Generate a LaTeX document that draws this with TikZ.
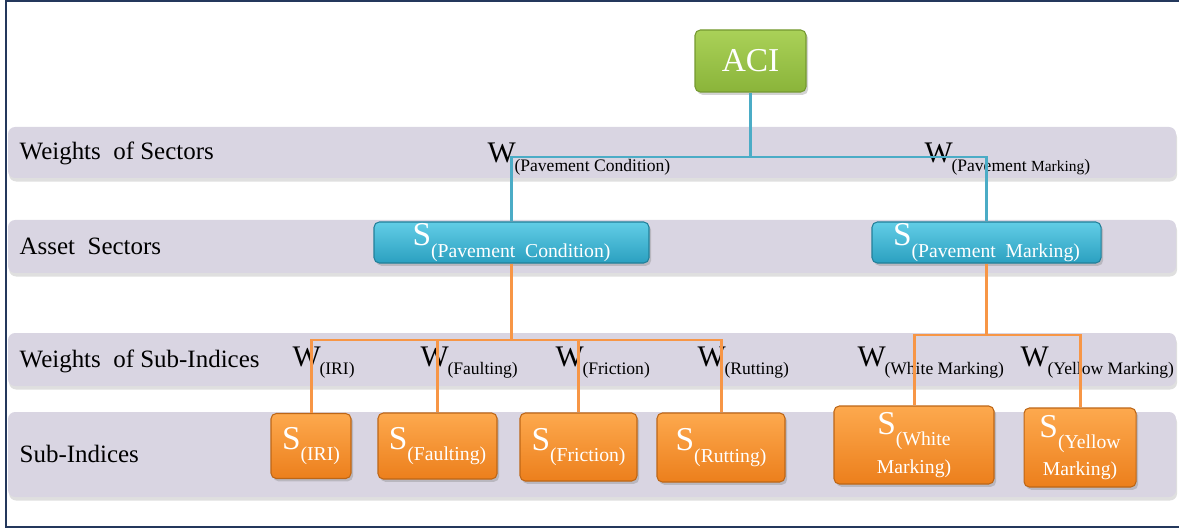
\documentclass[tikz,border=0pt]{standalone}
\usepackage{fontspec}
\setmainfont{Liberation Serif}
\newfontfamily\diagfont{Liberation Serif}
\usetikzlibrary{shadows}
\definecolor{bandgray}{HTML}{D9D5E2}
\definecolor{framenavy}{HTML}{24385C}
\definecolor{linkblue}{HTML}{4BACC6}
\definecolor{linkorange}{HTML}{F79646}
\definecolor{greentop}{HTML}{AAD158}
\definecolor{greenbot}{HTML}{8AB43A}
\definecolor{bluetop}{HTML}{62CDE6}
\definecolor{bluebot}{HTML}{2BA0C0}
\definecolor{orangetop}{HTML}{FDA94E}
\definecolor{orangebot}{HTML}{EC7F1C}
% W and S with a dropped subscript
\newcommand{\wlabel}[1]{{\diagfont\fontsize{8.5}{9}\selectfont W}\kern-0.4pt\raisebox{-0.55ex}{\diagfont\fontsize{5}{6}\selectfont #1}}
\newcommand{\slabel}[1]{{\diagfont\fontsize{9.5}{10}\selectfont S}\raisebox{-0.7ex}{\diagfont\fontsize{5.6}{6}\selectfont #1}}
\begin{document}
\begin{tikzpicture}[x=1cm,y=-1cm,
  band/.style={fill=bandgray, rounded corners=2pt,
    drop shadow={shadow xshift=0.3pt, shadow yshift=-1pt, opacity=0.25}},
  rowlab/.style={anchor=base west, inner sep=0, font=\diagfont\fontsize{7.1}{8}\selectfont},
  wlab/.style={anchor=base west, inner sep=0},
  box/.style={rounded corners=1.5pt, line width=0.3pt, text=white, inner sep=0,
    align=center, drop shadow={shadow xshift=0.6pt, shadow yshift=-0.8pt, opacity=0.35}},
  acibox/.style={box, draw=greenbot!85!black, top color=greentop, bottom color=greenbot},
  secbox/.style={box, draw=bluebot!80!black, top color=bluetop, bottom color=bluebot,
    minimum height=0.41cm},
  subbox/.style={box, draw=orangebot!80!black, top color=orangetop, bottom color=orangebot},
  blueline/.style={draw=linkblue, line width=0.75pt},
  orangeline/.style={draw=linkorange, line width=0.85pt}]
\useasboundingbox (0,0) rectangle (11.79,5.29);
\draw[framenavy, line width=0.5pt] (11.79,0.01)--(0.06,0.01)--(0.06,5.27)--(11.79,5.27);

% bands
\fill[band] (0.08,1.27) rectangle (11.76,1.78);
\fill[band] (0.08,2.20) rectangle (11.76,2.73);
\fill[band] (0.08,3.33) rectangle (11.76,3.86);
\fill[band] (0.08,4.12) rectangle (11.76,4.97);

\node[rowlab] (lws) at (0.19,1.60) {Weights\ \ of Sectors};
\node[rowlab] (las) at (0.19,2.55) {Asset\ \ Sectors};
\node[rowlab] (lwsi) at (0.19,3.67) {Weights\ \ of Sub-Indices};
\node[rowlab] (lsi) at (0.19,4.62) {Sub-Indices};

% boxes
\node[acibox, minimum width=1.11cm, minimum height=0.62cm] (aci) at (7.505,0.61)
  {\diagfont\fontsize{9.5}{11}\selectfont ACI};
\node[secbox, minimum width=2.75cm] (spc) at (5.115,2.425) {\slabel{(Pavement\ \ Condition)}};
\node[secbox, minimum width=2.29cm] (spm) at (9.865,2.425) {\slabel{(Pavement\ \ Marking)}};

\node[subbox, minimum width=0.80cm, minimum height=0.65cm] (siri) at (3.11,4.46) {\slabel{(IRI)}};
\node[subbox, minimum width=1.19cm, minimum height=0.66cm] (sflt) at (4.375,4.46) {\slabel{(Faulting)}};
\node[subbox, minimum width=1.17cm, minimum height=0.68cm] (sfrc) at (5.785,4.47) {\slabel{(Friction)}};
\node[subbox, minimum width=1.28cm, minimum height=0.69cm] (srut) at (7.21,4.475) {\slabel{(Rutting)}};
\node[subbox, minimum width=1.60cm, minimum height=0.78cm] (swht) at (9.14,4.45)
  {\slabel{(White}\\[-1pt]{\diagfont\fontsize{5.6}{6}\selectfont Marking)}};
\node[subbox, minimum width=1.12cm, minimum height=0.79cm] (syel) at (10.80,4.475)
  {\slabel{(Yellow}\\[-1pt]{\diagfont\fontsize{5.6}{6}\selectfont Marking)}};

% weights
\node[wlab] (wpc) at (4.87,1.63) {\wlabel{(Pavement Condition)}};
\node[wlab] (wpm) at (9.24,1.63) {\wlabel{(Pavement {\fontsize{4.4}{5}\selectfont Marking})}};
\node[wlab] (wiri) at (2.92,3.66) {\wlabel{(IRI)}};
\node[wlab] (wflt) at (4.20,3.66) {\wlabel{(Faulting)}};
\node[wlab] (wfrc) at (5.55,3.66) {\wlabel{(Friction)}};
\node[wlab] (wrut) at (6.97,3.66) {\wlabel{(Rutting)}};
\node[wlab] (wwht) at (8.57,3.66) {\wlabel{(White Marking)}};
\node[wlab] (wyel) at (10.20,3.66) {\wlabel{(Yellow Marking)}};

% links
\coordinate (secbus) at (7.505,1.57);
\coordinate (pcbus) at (5.115,3.40);
\coordinate (pmbus) at (9.865,3.35);
\draw[blueline] (aci.south)--(aci.south |- secbus);
\draw[blueline] (spc.north)--(spc.north |- secbus)--(spm.north |- secbus)--(spm.north);
\draw[orangeline] (spc.south)--(spc.south |- pcbus);
\draw[orangeline] (siri.north)--(siri.north |- pcbus)--(srut.north |- pcbus)--(srut.north);
\draw[orangeline] (sflt.north)--(sflt.north |- pcbus);
\draw[orangeline] (sfrc.north)--(sfrc.north |- pcbus);
\draw[orangeline] (spm.south)--(spm.south |- pmbus);
\draw[orangeline] (swht.north)--(swht.north |- pmbus)--(syel.north |- pmbus)--(syel.north);
\end{tikzpicture}
\end{document}
